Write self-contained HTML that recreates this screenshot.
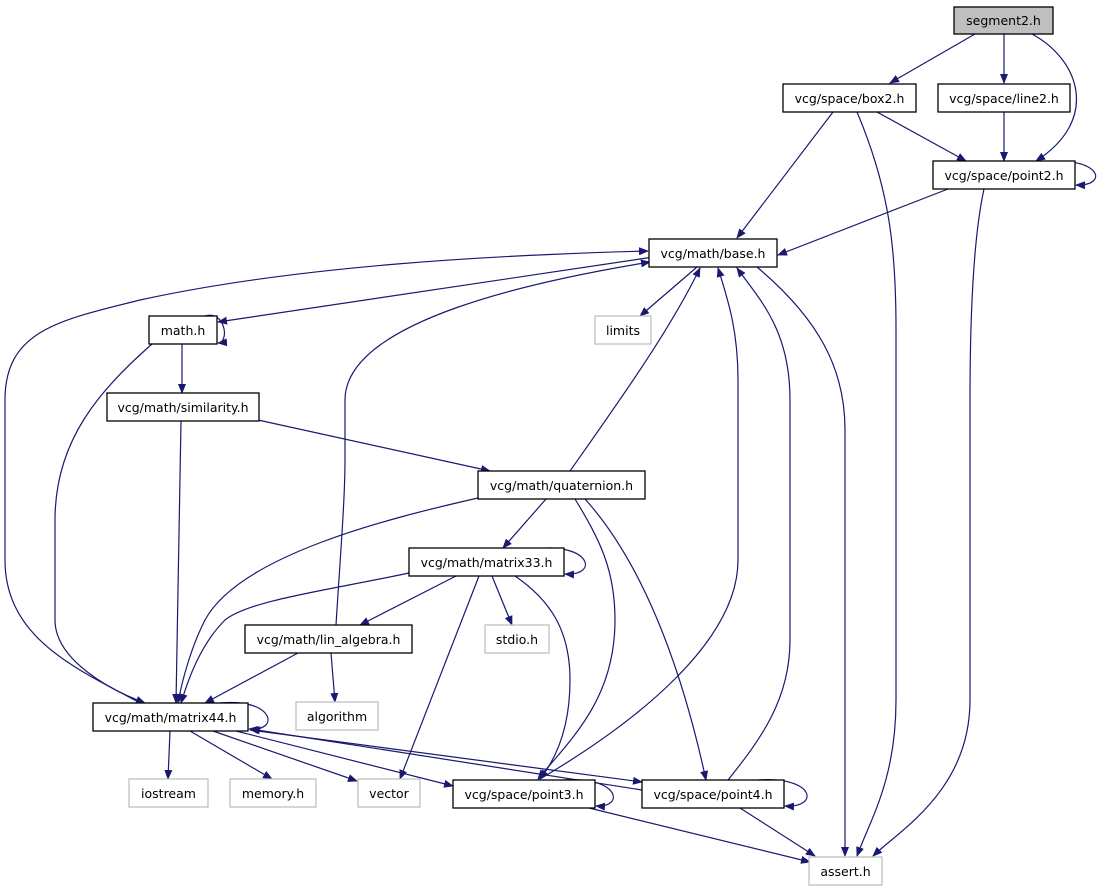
<!DOCTYPE html>
<html><head><meta charset="utf-8"><style>
html,body{margin:0;padding:0;background:#fff;}
svg text{font-family:"DejaVu Sans","Liberation Sans",sans-serif;font-size:12.5px;fill:#000;}
</style></head><body>
<svg width="1104" height="891" viewBox="0 0 1104 891" xmlns="http://www.w3.org/2000/svg">
<defs>
<marker id="a" markerWidth="10" markerHeight="8" refX="9" refY="4" orient="auto" markerUnits="userSpaceOnUse">
<path d="M0,0 L10,4 L0,8 Z" fill="#191970"/></marker>
</defs>
<g fill="none" stroke="#191970" stroke-width="1.2" marker-end="url(#a)">
<path d="M975,34 L890,83"/>
<path d="M1004,34 L1004,83"/>
<path d="M1032,34 C1080,60 1100,120 1036,161"/>
<path d="M877,112 L966,161"/>
<path d="M833,112 L737,238"/>
<path d="M857,112 C890,190 896,250 896,330 L896,700 C896,780 870,820 857,856"/>
<path d="M984,189 C975,230 970,300 970,400 L970,700 C970,790 900,830 873,856"/>
<path d="M948,189 L778,255"/>
<path d="M1045,162 C1100,156 1110,186 1076,185"/>
<path d="M1004,112 L1004,161"/>
<path d="M697,267 L640,316"/>
<path d="M660,256 L218,322"/>
<path d="M757,267 C820,320 845,370 845,430 L845,856"/>
<path d="M140,703 C80,670 5,640 5,560 L5,400 C5,330 60,320 140,300 C300,265 500,255 648,251"/>
<path d="M336,625 C340,560 345,500 345,460 L345,400 C345,320 540,280 650,262"/>
<path d="M570,471 C620,400 670,330 700,268"/>
<path d="M540,779 C640,720 738,640 738,560 L738,380 C738,330 728,300 718,268"/>
<path d="M728,780 C760,740 790,700 790,640 L790,400 C790,330 760,300 737,268"/>
<path d="M205,316 C225,310 230,342 218,343"/>
<path d="M182,344 L182,393"/>
<path d="M152,344 C100,390 55,440 55,520 L55,620 C55,660 110,690 145,703"/>
<path d="M181,421 L176,703"/>
<path d="M258,420 L490,471"/>
<path d="M546,499 L503,548"/>
<path d="M478,498 C390,518 240,555 205,620 C192,645 182,680 178,703"/>
<path d="M575,499 C600,540 615,570 615,620 C615,700 570,740 538,779"/>
<path d="M585,499 C640,560 680,660 706,780"/>
<path d="M535,549 C590,542 600,576 565,574"/>
<path d="M456,576 L360,625"/>
<path d="M492,576 L512,625"/>
<path d="M479,576 L400,779"/>
<path d="M515,576 C550,600 570,630 570,680 C570,730 555,760 540,779"/>
<path d="M409,573 C330,590 250,600 225,620 C200,645 188,680 181,703"/>
<path d="M298,653 L205,703"/>
<path d="M331,653 L335,702"/>
<path d="M220,703 C275,698 280,732 249,729"/>
<path d="M170,731 L168,779"/>
<path d="M190,731 L272,779"/>
<path d="M213,731 L357,781"/>
<path d="M236,731 L453,786"/>
<path d="M250,730 L642,782"/>
<path d="M642,790 L251,729"/>
<path d="M563,780 C620,776 625,808 596,806"/>
<path d="M758,780 C815,776 820,808 785,806"/>
<path d="M585,807 L810,862"/>
<path d="M740,808 L815,856"/>
</g>
<g stroke-width="1.3">
<rect x="954" y="7" width="99" height="27" fill="#bfbfbf" stroke="#000"/>
<rect x="783" y="84" width="133" height="28" fill="#fff" stroke="#000"/>
<rect x="938" y="84" width="132" height="28" fill="#fff" stroke="#000"/>
<rect x="933" y="161" width="142" height="28" fill="#fff" stroke="#000"/>
<rect x="649" y="239" width="128" height="28" fill="#fff" stroke="#000"/>
<rect x="149" y="316" width="68" height="28" fill="#fff" stroke="#000"/>
<rect x="595" y="316" width="56" height="28" fill="#fff" stroke="#bfbfbf"/>
<rect x="107" y="393" width="152" height="28" fill="#fff" stroke="#000"/>
<rect x="478" y="471" width="167" height="28" fill="#fff" stroke="#000"/>
<rect x="409" y="548" width="155" height="28" fill="#fff" stroke="#000"/>
<rect x="485" y="625" width="64" height="28" fill="#fff" stroke="#bfbfbf"/>
<rect x="245" y="625" width="167" height="28" fill="#fff" stroke="#000"/>
<rect x="296" y="702" width="82" height="28" fill="#fff" stroke="#bfbfbf"/>
<rect x="93" y="703" width="155" height="28" fill="#fff" stroke="#000"/>
<rect x="129" y="779" width="79" height="28" fill="#fff" stroke="#bfbfbf"/>
<rect x="230" y="779" width="86" height="28" fill="#fff" stroke="#bfbfbf"/>
<rect x="358" y="779" width="62" height="28" fill="#fff" stroke="#bfbfbf"/>
<rect x="453" y="780" width="142" height="28" fill="#fff" stroke="#000"/>
<rect x="642" y="780" width="142" height="28" fill="#fff" stroke="#000"/>
<rect x="809" y="857" width="73" height="28" fill="#fff" stroke="#bfbfbf"/>
</g>
<g text-anchor="middle">
<text x="1003.5" y="25">segment2.h</text>
<text x="849.5" y="103">vcg/space/box2.h</text>
<text x="1004" y="103">vcg/space/line2.h</text>
<text x="1004" y="180">vcg/space/point2.h</text>
<text x="713" y="258">vcg/math/base.h</text>
<text x="183" y="335">math.h</text>
<text x="623" y="335">limits</text>
<text x="183" y="412">vcg/math/similarity.h</text>
<text x="561.5" y="490">vcg/math/quaternion.h</text>
<text x="486.5" y="567">vcg/math/matrix33.h</text>
<text x="517" y="644">stdio.h</text>
<text x="328.5" y="644">vcg/math/lin_algebra.h</text>
<text x="337" y="721">algorithm</text>
<text x="170.5" y="722">vcg/math/matrix44.h</text>
<text x="168.5" y="798">iostream</text>
<text x="273" y="798">memory.h</text>
<text x="389" y="798">vector</text>
<text x="524" y="799">vcg/space/point3.h</text>
<text x="713" y="799">vcg/space/point4.h</text>
<text x="845.5" y="876">assert.h</text>
</g>
</svg>
</body></html>
